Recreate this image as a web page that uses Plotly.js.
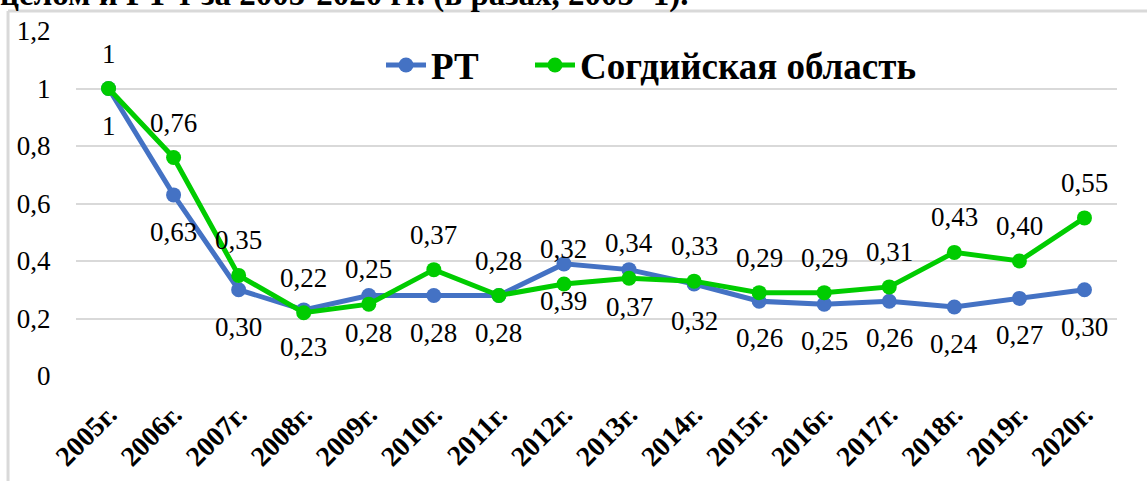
<!DOCTYPE html>
<html>
<head>
<meta charset="utf-8">
<script src="https://cdn.plot.ly/plotly-3.0.1.min.js"></script>
<style>
html,body{margin:0;padding:0;background:#fff;}
#chart{width:1147px;height:481px;}
</style>
</head>
<body>
<div id="chart"></div>
<script>
var years = ["2005г.","2006г.","2007г.","2008г.","2009г.","2010г.","2011г.","2012г.","2013г.","2014г.","2015г.","2016г.","2017г.","2018г.","2019г.","2020г."];
var rtValues = [1, 0.63, 0.30, 0.23, 0.28, 0.28, 0.28, 0.39, 0.37, 0.32, 0.26, 0.25, 0.26, 0.24, 0.27, 0.30];
var sogdValues = [1, 0.76, 0.35, 0.22, 0.25, 0.37, 0.28, 0.32, 0.34, 0.33, 0.29, 0.29, 0.31, 0.43, 0.40, 0.55];
var yTickVals = [0, 0.2, 0.4, 0.6, 0.8, 1, 1.2];
var yTickText = ["0", "0,2", "0,4", "0,6", "0,8", "1", "1,2"];
var seriesNames = ["РТ\u00a0\u00a0\u00a0\u00a0\u00a0", "Согдийская область"];
var topText = "целом и РТ т за 2005-2020 гг. (в разах, 2005=1).";

function fmt(v){ return v === 1 ? "1" : v.toFixed(2).replace(".", ","); }

var blue = "#4472C4", green = "#00CC00";
var serif = "'Liberation Serif', 'Times New Roman', 'DejaVu Serif', serif";

var traces = [
  {x: years, y: rtValues, name: seriesNames[0], type: "scatter", mode: "lines+markers",
   line: {color: blue, width: 5}, marker: {color: blue, size: 15}},
  {x: years, y: sogdValues, name: seriesNames[1], type: "scatter", mode: "lines+markers",
   line: {color: green, width: 5}, marker: {color: green, size: 15}}
];

var annotations = [];
years.forEach(function(yr, i){
  annotations.push({x: yr, y: sogdValues[i], xref: "x", yref: "y", text: fmt(sogdValues[i]),
    showarrow: false, yshift: 35, font: {family: serif, size: 27, color: "#000"}});
  annotations.push({x: yr, y: rtValues[i], xref: "x", yref: "y", text: fmt(rtValues[i]),
    showarrow: false, yshift: -37, font: {family: serif, size: 27, color: "#000"}});
});
annotations.push({x: -0.075, y: 1.045, xref: "paper", yref: "paper", xanchor: "left", yanchor: "bottom",
  text: "<b>" + topText + "</b>", showarrow: false, font: {family: serif, size: 33, color: "#000"}});

var layout = {
  width: 1147, height: 481,
  margin: {l: 76, r: 30, t: 31, b: 105},
  paper_bgcolor: "#fff", plot_bgcolor: "#fff",
  font: {family: serif},
  showlegend: true,
  legend: {orientation: "h", x: 0.293, y: 0.9, xanchor: "left", yanchor: "middle",
    font: {family: serif, size: 37, color: "#000", weight: "bold"}, bgcolor: "rgba(0,0,0,0)",
    itemwidth: 40},
  xaxis: {type: "category", range: [-0.5, 15.5], showgrid: false, zeroline: false, showline: false,
    tickangle: -45, ticks: "outside", ticklen: 10, tickcolor: "rgba(0,0,0,0)",
    tickfont: {family: serif, size: 28, color: "#000", weight: "bold"}},
  yaxis: {range: [0, 1.2], tickvals: yTickVals, ticktext: yTickText, showgrid: true,
    gridcolor: "#d9d9d9", gridwidth: 2, zeroline: false, showline: false,
    ticks: "outside", ticklen: 19, tickcolor: "rgba(0,0,0,0)",
    tickfont: {family: serif, size: 27, color: "#000"}},
  annotations: annotations,
  shapes: [
    {type: "line", xref: "paper", yref: "paper", x0: -0.0653, x1: -0.0653, y0: -0.5, y1: 1.058,
      line: {color: "#d9d9d9", width: 3}},
    {type: "line", xref: "paper", yref: "paper", x0: -0.0653, x1: 1.2, y0: 1.058, y1: 1.058,
      line: {color: "#d9d9d9", width: 3}}
  ]
};

Plotly.newPlot("chart", traces, layout, {displayModeBar: false, staticPlot: true});
</script>
</body>
</html>
